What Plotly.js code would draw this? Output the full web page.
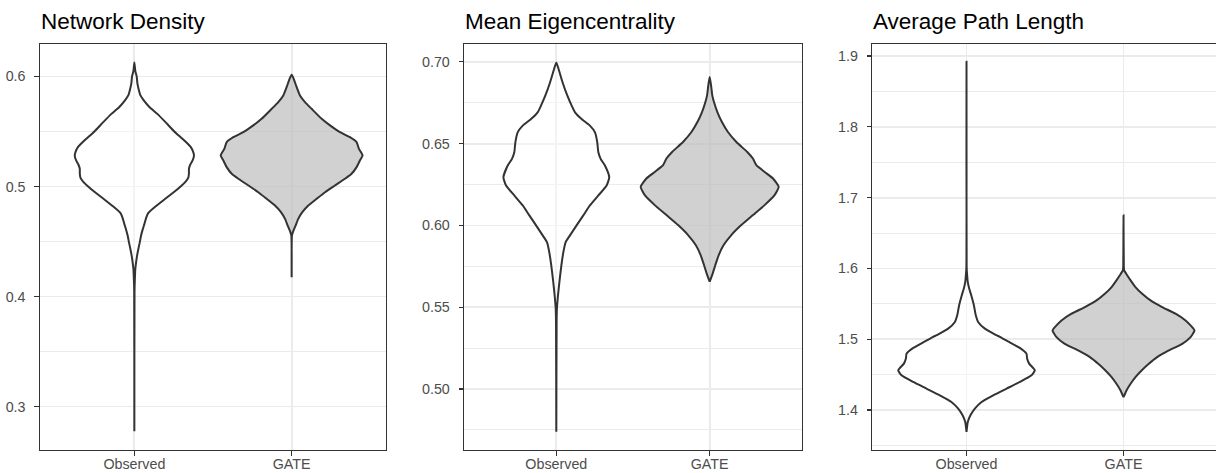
<!DOCTYPE html>
<html>
<head>
<meta charset="utf-8">
<script src="https://cdn.plot.ly/plotly-3.0.1.min.js"></script>
<style>html,body{margin:0;padding:0;background:#fff}#chart{width:1216px;height:473px}</style>
</head>
<body>
<div id="chart"></div>
<script>
// ---- Data ----
const categories = ["Observed", "GATE"];
const panelTitles = ["Network Density", "Mean Eigencentrality", "Average Path Length"];

// y-axis ticks per panel
const densityTicks = [0.3, 0.4, 0.5, 0.6];
const densityTickText = ["0.3", "0.4", "0.5", "0.6"];
const eigenTicks = [0.50, 0.55, 0.60, 0.65, 0.70];
const eigenTickText = ["0.50", "0.55", "0.60", "0.65", "0.70"];
const pathTicks = [1.4, 1.5, 1.6, 1.7, 1.8, 1.9];
const pathTickText = ["1.4", "1.5", "1.6", "1.7", "1.8", "1.9"];

// Violin outlines: y levels (top to bottom) and half-widths (x-axis units)
const densityObsY = [0.6127,0.605,0.600,0.594,0.588,0.583,0.578,0.572,0.566,0.558,0.550,0.542,0.536,0.531,0.528,0.524,0.520,0.516,0.512,0.508,0.5045,0.500,0.494,0.488,0.482,0.476,0.472,0.466,0.461,0.455,0.449,0.443,0.437,0.431,0.425,0.415,0.405,0.2776];
const densityObsW = [0,0.006,0.015,0.019,0.028,0.038,0.061,0.097,0.146,0.201,0.254,0.316,0.358,0.375,0.379,0.371,0.356,0.347,0.347,0.343,0.326,0.294,0.244,0.189,0.136,0.089,0.076,0.064,0.053,0.042,0.034,0.025,0.017,0.011,0.006,0.003,0.001,0];

const densityGateY = [0.6015,0.5979,0.5918,0.5827,0.5767,0.5706,0.5615,0.5555,0.5494,0.5448,0.5403,0.5342,0.5282,0.5236,0.5176,0.5115,0.507,0.5009,0.4948,0.4888,0.4827,0.4767,0.4706,0.4645,0.4585,0.4555,0.4176];
const densityGateW = [0,0.013,0.028,0.053,0.085,0.127,0.191,0.244,0.307,0.371,0.413,0.428,0.451,0.434,0.413,0.381,0.339,0.275,0.212,0.159,0.106,0.068,0.042,0.025,0.008,0.002,0];

const eigenObsY = [0.6996,0.6955,0.6874,0.6793,0.6732,0.6691,0.665,0.661,0.6569,0.6508,0.6447,0.6407,0.6366,0.6295,0.6244,0.6183,0.6122,0.6061,0.600,0.5939,0.5898,0.5837,0.5756,0.5654,0.5573,0.5492,0.541,0.4739];
const eigenObsW = [0,0.015,0.041,0.072,0.100,0.122,0.165,0.219,0.252,0.267,0.274,0.289,0.317,0.345,0.328,0.274,0.219,0.176,0.132,0.089,0.061,0.046,0.033,0.020,0.011,0.004,0.002,0];

const eigenGateY = [0.6907,0.6856,0.6795,0.6754,0.6693,0.6632,0.6571,0.651,0.6449,0.6409,0.6368,0.6327,0.6287,0.6236,0.6185,0.6124,0.6063,0.6002,0.5941,0.588,0.5819,0.5758,0.5707,0.5656];
const eigenGateW = [0,0.009,0.017,0.028,0.050,0.080,0.119,0.174,0.245,0.282,0.304,0.358,0.413,0.450,0.423,0.358,0.282,0.206,0.141,0.091,0.059,0.037,0.020,0];

const pathObsY = [1.892,1.600,1.5904,1.581,1.5715,1.5621,1.548,1.5338,1.5244,1.515,1.5056,1.4961,1.4867,1.4796,1.4726,1.4655,1.4561,1.449,1.4396,1.4302,1.4207,1.4113,1.4019,1.3925,1.383,1.3689];
const pathObsW = [0,0.001,0.004,0.008,0.017,0.030,0.047,0.059,0.074,0.117,0.191,0.272,0.346,0.382,0.386,0.399,0.435,0.414,0.340,0.255,0.170,0.096,0.053,0.025,0.008,0];

const pathGateY = [1.675,1.6019,1.5972,1.5925,1.5831,1.5737,1.5642,1.5548,1.5454,1.536,1.5265,1.5195,1.5124,1.503,1.4935,1.4841,1.4747,1.4653,1.4558,1.4464,1.437,1.4276,1.4181];
const pathGateW = [0,0.002,0.004,0.017,0.045,0.076,0.119,0.172,0.246,0.331,0.395,0.427,0.452,0.427,0.374,0.289,0.214,0.161,0.115,0.076,0.045,0.019,0];

// ---- Styling ----
const FONT = "Liberation Sans, Arial, Helvetica, sans-serif";
const LINE = "#333333";
const GRID = "#ebebeb";
const FILLS = ["rgba(255,255,255,0.4)", "rgba(190,190,190,0.7)"];

function violin(yArr, wArr, center, fill, xa, ya) {
  const xs = [], ys = [];
  for (let i = 0; i < yArr.length; i++) { xs.push(center + wArr[i]); ys.push(yArr[i]); }
  for (let i = yArr.length - 1; i >= 0; i--) { xs.push(center - wArr[i]); ys.push(yArr[i]); }
  return {
    type: "scatter", mode: "lines", x: xs, y: ys, xaxis: xa, yaxis: ya,
    fill: "toself", fillcolor: fill,
    line: { color: LINE, width: 2, shape: "spline", smoothing: 0.5 },
    hoverinfo: "skip", showlegend: false
  };
}

const panels = [
  { obs: [densityObsY, densityObsW], gate: [densityGateY, densityGateW], ticks: densityTicks, text: densityTickText,
    minor: [0.35, 0.45, 0.55], yr: [0.2605, 0.6295], xd: [40/1216, 386/1216], xr: [0.4, 2.6], mirror: true },
  { obs: [eigenObsY, eigenObsW], gate: [eigenGateY, eigenGateW], ticks: eigenTicks, text: eigenTickText,
    minor: [0.475, 0.525, 0.575, 0.625, 0.675], yr: [0.4627, 0.7109], xd: [464.3/1216, 801.7/1216], xr: [0.4, 2.6], mirror: true },
  { obs: [pathObsY, pathObsW], gate: [pathGateY, pathGateW], ticks: pathTicks, text: pathTickText,
    minor: [1.35, 1.45, 1.55, 1.65, 1.75, 1.85], yr: [1.3435, 1.917], xd: [872.3/1216, 1], xr: [0.4, 2.589], mirror: false }
];

const yDomain = [23/473, 429/473];
const traces = [];
const layout = {
  width: 1216, height: 473,
  margin: { l: 0, r: 0, t: 0, b: 0 },
  paper_bgcolor: "#ffffff", plot_bgcolor: "#ffffff",
  showlegend: false,
  font: { family: FONT },
  annotations: [],
  shapes: []
};

panels.forEach((p, i) => {
  const n = i === 0 ? "" : String(i + 1);
  const xa = "x" + n, ya = "y" + n;
  traces.push(violin(p.obs[0], p.obs[1], 1, FILLS[0], xa, ya));
  traces.push(violin(p.gate[0], p.gate[1], 2, FILLS[1], xa, ya));
  layout["xaxis" + n] = {
    domain: p.xd, range: p.xr, anchor: ya,
    tickmode: "array", tickvals: [1, 2], ticktext: categories,
    showgrid: true, gridcolor: GRID, gridwidth: 1.8, zeroline: false,
    showline: true, linecolor: LINE, linewidth: 1.1, mirror: true,
    ticks: "outside", ticklen: 4.5, tickwidth: 1.1, tickcolor: LINE,
    tickfont: { family: FONT, size: 14.3, color: "#4d4d4d" },
    ticklabelstandoff: -4,
    fixedrange: true
  };
  layout["yaxis" + n] = {
    domain: yDomain, range: p.yr, anchor: xa,
    tickmode: "array", tickvals: p.ticks, ticktext: p.text,
    showgrid: true, gridcolor: GRID, gridwidth: 1.8, zeroline: false,
    minor: { tickmode: "array", tickvals: p.minor, showgrid: true, gridcolor: GRID, gridwidth: 1.0, ticks: "" },
    showline: true, linecolor: LINE, linewidth: 1.1, mirror: p.mirror,
    ticks: "outside", ticklen: 4.5, tickwidth: 1.1, tickcolor: LINE,
    tickfont: { family: FONT, size: 14.3, color: "#4d4d4d" },
    ticklabelstandoff: 6,
    fixedrange: true
  };
  layout.annotations.push({
    text: panelTitles[i], xref: "paper", yref: "paper",
    x: p.xd[0] - 1/1216, y: 1 - 22/473, xanchor: "left", yanchor: "middle",
    showarrow: false, font: { family: FONT, size: 22.5, color: "#000000" }
  });
});

Plotly.newPlot("chart", traces, layout, { staticPlot: true, displayModeBar: false });
</script>
</body>
</html>
